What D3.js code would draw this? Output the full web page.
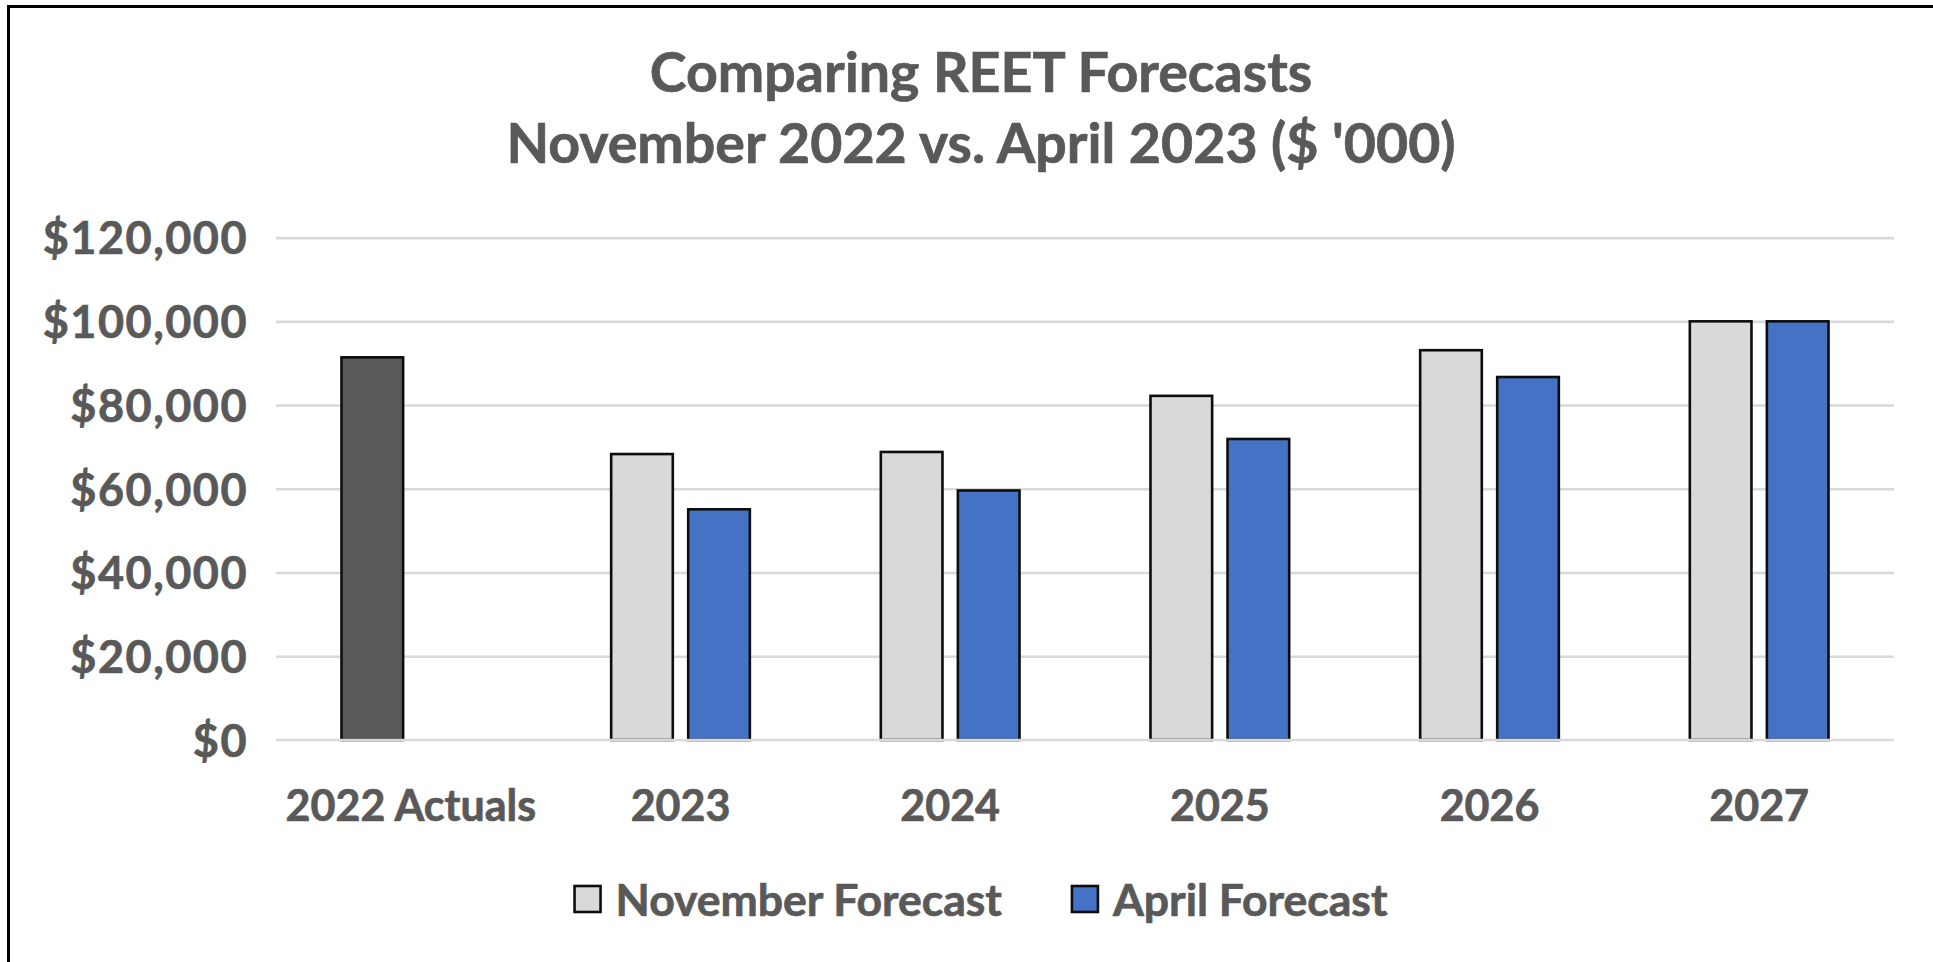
<!DOCTYPE html>
<html>
<head>
<meta charset="utf-8">
<script src="https://cdn.jsdelivr.net/npm/d3@7"></script>
<style>
  html, body { margin: 0; padding: 0; background: #ffffff; }
  svg { display: block; }
  text { font-family: Lato, "Open Sans", sans-serif; font-weight: 700; fill: #595959; stroke: #595959; stroke-width: 0.7px; }
</style>
</head>
<body>
<svg id="chart" width="1933" height="962"></svg>
<script>
// Categories and series (thousands of dollars)
const categories = ["2022 Actuals", "2023", "2024", "2025", "2026", "2027"];
const seriesNames = ["November Forecast", "April Forecast"];
const novemberValues = [91400, 68300, 68800, 82200, 93100, 100000];
const aprilValues = [null, 55100, 59600, 71900, 86700, 100000];
const yTicks = [0, 20000, 40000, 60000, 80000, 100000, 120000];
const titleLines = ["Comparing REET Forecasts", "November 2022 vs. April 2023 ($ '000)"];

const colors = { actual: "#595959", nov: "#D9D9D9", apr: "#4472C4", grid: "#D9D9D9", text: "#595959" };

const svg = d3.select("#chart");
const W = 1933, H = 962;
const plot = { left: 276, right: 1894, top: 237.6, bottom: 740 };
const centerX = 981;

// Outer chart frame (only top/left edges fall inside the canvas)
svg.append("rect")
  .attr("x", 8.5).attr("y", 6.5)
  .attr("width", W + 40).attr("height", H + 40)
  .attr("fill", "#ffffff")
  .attr("stroke", "#000000").attr("stroke-width", 3);

// Title
svg.append("g").selectAll("text")
  .data(titleLines)
  .join("text")
  .attr("x", centerX)
  .attr("y", (d, i) => [91.7, 163.3][i])
  .attr("text-anchor", "middle")
  .attr("font-size", 55.5)
  .text(d => d);

// Scales
const x0 = d3.scaleBand().domain(categories).range([plot.left, plot.right]).padding(0);
const x1 = d3.scaleBand().domain(["nov", "apr"]).range([0, x0.bandwidth()])
  .paddingInner(0.2).paddingOuter(0.85);
const y = d3.scaleLinear().domain([0, 120000]).range([plot.bottom, plot.top]);

// Gridlines (all but the baseline, which is drawn over the bar bottoms)
const yAxis = d3.axisLeft(y).tickValues(yTicks)
  .tickSize(-(plot.right - plot.left))
  .tickFormat(d => "$" + d3.format(",")(d))
  .tickPadding(28);
const gy = svg.append("g").attr("transform", `translate(${plot.left},0)`).call(yAxis);
gy.select(".domain").remove();
gy.selectAll(".tick line").attr("stroke", colors.grid).attr("stroke-width", 2.6)
  .filter(d => d === 0).remove();
gy.selectAll(".tick text")
  .attr("font-size", 45)
  .attr("font-family", "Lato, 'Open Sans', sans-serif")
  .attr("font-weight", 700)
  .attr("fill", colors.text)
  .attr("letter-spacing", 1.5)
  .attr("dy", "0.36em");

// Bars
const rows = categories.map((c, i) => ({ cat: c, nov: novemberValues[i], apr: aprilValues[i], idx: i }));
const groups = svg.append("g").selectAll("g")
  .data(rows)
  .join("g")
  .attr("transform", d => `translate(${x0(d.cat)},0)`);

groups.selectAll("rect")
  .data(d => [
    { key: "nov", value: d.nov, actual: d.idx === 0 },
    { key: "apr", value: d.apr, actual: false }
  ].filter(b => b.value != null))
  .join("rect")
  .attr("x", b => x1(b.key))
  .attr("width", x1.bandwidth())
  .attr("y", b => y(b.value))
  .attr("height", b => y(0) - y(b.value))
  .attr("fill", b => b.actual ? colors.actual : (b.key === "nov" ? colors.nov : colors.apr))
  .attr("stroke", "#0d0d0d")
  .attr("stroke-width", 2.6);

// Baseline gridline on top of the bar bottoms
svg.append("line")
  .attr("x1", plot.left).attr("x2", plot.right)
  .attr("y1", y(0)).attr("y2", y(0))
  .attr("stroke", colors.grid).attr("stroke-width", 2.6);

// Category axis
const xAxis = d3.axisBottom(x0).tickSize(0).tickPadding(0);
const gx = svg.append("g").attr("transform", `translate(0,${y(0)})`).call(xAxis);
gx.select(".domain").remove();
gx.selectAll(".tick text")
  .attr("font-size", 43)
  .attr("font-family", "Lato, 'Open Sans', sans-serif")
  .attr("font-weight", 700)
  .attr("fill", colors.text)
  .attr("dy", null)
  .attr("y", 81);

// Legend
const legend = svg.append("g");
const legendItems = [
  { name: seriesNames[0], fill: colors.nov },
  { name: seriesNames[1], fill: colors.apr }
];
const sw = 26, gapText = 15, gapItem = 70, legendBaseline = 916;
let cursor = 0;
const items = legend.selectAll("g").data(legendItems).join("g");
items.append("rect")
  .attr("width", sw).attr("height", sw)
  .attr("y", 886)
  .attr("fill", d => d.fill)
  .attr("stroke", "#0d0d0d").attr("stroke-width", 2.6);
items.append("text")
  .attr("y", legendBaseline)
  .attr("font-size", 44.5)
  .text(d => d.name);
items.each(function () {
  const g = d3.select(this);
  const tw = g.select("text").node().getComputedTextLength();
  g.select("rect").attr("x", cursor);
  g.select("text").attr("x", cursor + sw + gapText);
  cursor += sw + gapText + tw + gapItem;
});
const legendWidth = cursor - gapItem;
legend.attr("transform", `translate(${centerX - legendWidth / 2},0)`);
</script>
</body>
</html>
